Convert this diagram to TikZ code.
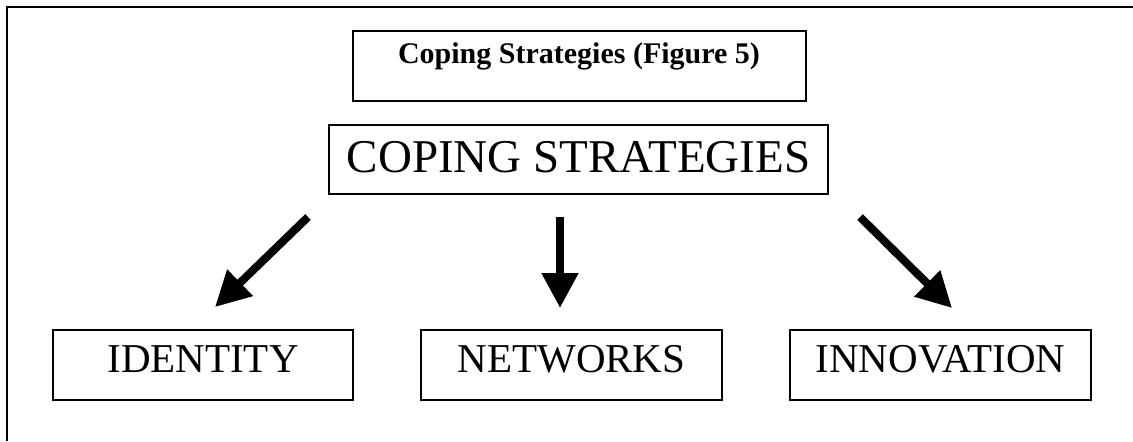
\documentclass[tikz,border=0pt]{standalone}
\usepackage{fontspec}
\setmainfont{Liberation Serif}
\usetikzlibrary{arrows.meta}

\tikzset{
  box/.style = {draw, line width=1pt, inner sep=0pt, align=center},
  bigarrow/.style = {line width=4pt, -{Triangle[length=17.5pt, width=17.5pt]}}
}

\begin{document}
\begin{tikzpicture}[x=0.5pt, y=-0.5pt]
  \useasboundingbox (0, 0) rectangle (1133, 441);
  % frame of the page
  \draw[line width=0.8pt] (7, 441) -- (7, 7) -- (1133, 7);

  % boxes
  \node[box, minimum width=226.5pt, text height=16pt, text depth=19pt,
        font=\fontsize{15pt}{18pt}\selectfont\bfseries]
        (title) at (579, 66) {Coping Strategies (Figure 5)};
  \node[box, minimum width=249.5pt, text height=24pt, text depth=10.5pt,
        font=\fontsize{23.5pt}{28pt}\selectfont]
        (coping) at (578.5, 159) {COPING STRATEGIES};
  \node[box, minimum width=150pt, text height=21pt, text depth=14pt,
        font=\fontsize{20.5pt}{24pt}\selectfont]
        (identity) at (203, 365) {IDENTITY};
  \node[box, minimum width=150.5pt, text height=21pt, text depth=14pt,
        font=\fontsize{20.5pt}{24pt}\selectfont]
        (networks) at (571.5, 365) {NETWORKS};
  \node[box, minimum width=150.5pt, text height=21pt, text depth=14pt,
        font=\fontsize{20.5pt}{24pt}\selectfont]
        (innovation) at (940.5, 365) {INNOVATION};

  % arrow ends
  \coordinate (idstart) at (308, 217);
  \coordinate (idend) at (215, 307);
  \coordinate (netstart) at (560, 217);
  \coordinate (netend) at (560, 308);
  \coordinate (innstart) at (860, 217);
  \coordinate (innend) at (952, 308);

  \draw[bigarrow] (idstart) -- (idend);
  \draw[bigarrow] (netstart) -- (netend);
  \draw[bigarrow] (innstart) -- (innend);
\end{tikzpicture}
\end{document}
